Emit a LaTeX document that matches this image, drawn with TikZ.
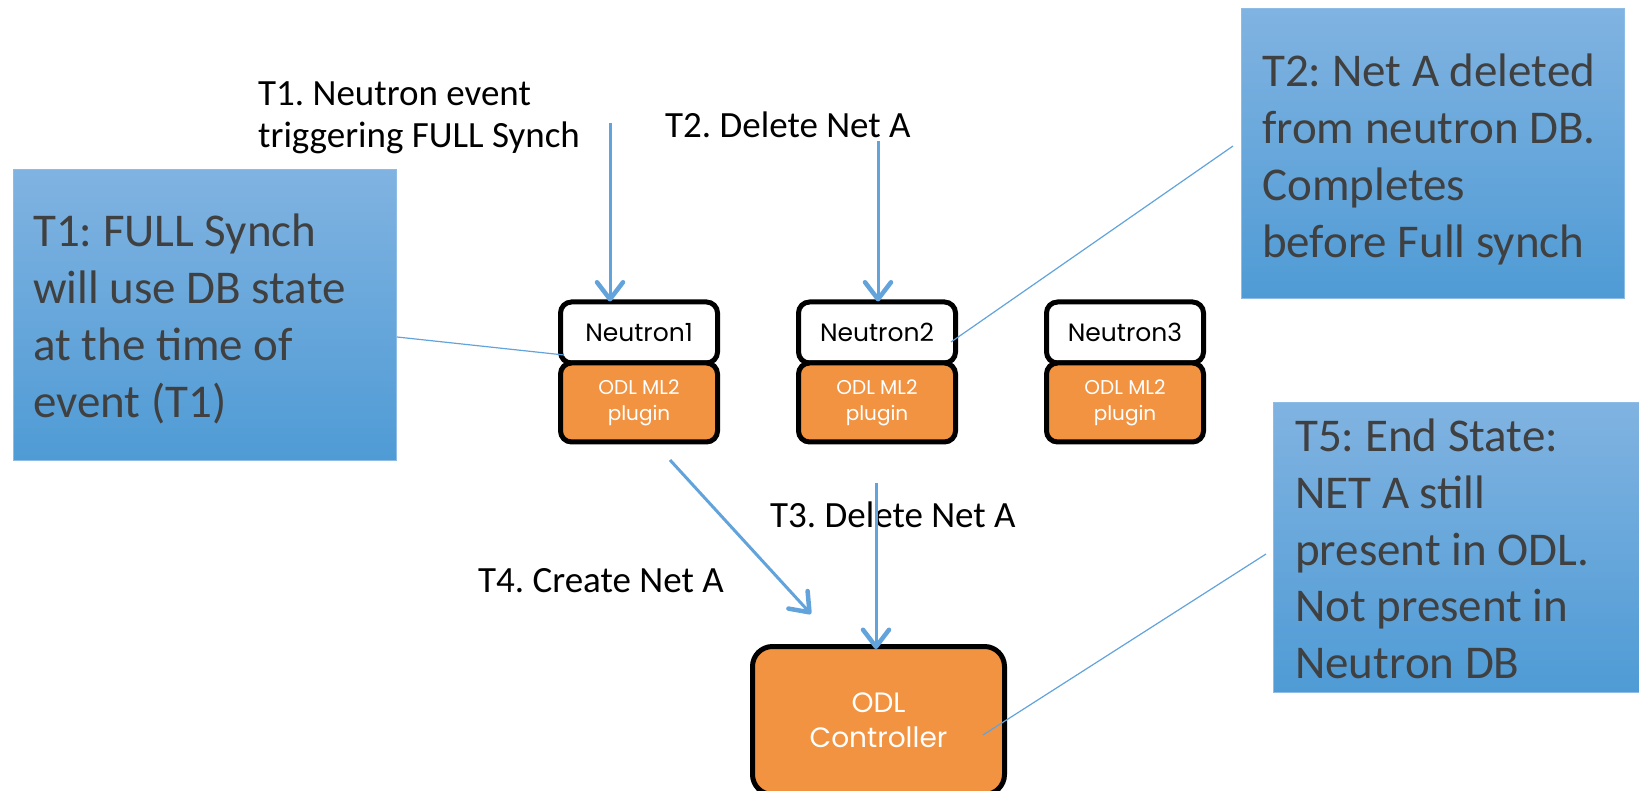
\documentclass[tikz,border=0pt]{standalone}
\usepackage{fontspec}
\setmainfont{Carlito}
\newfontfamily\gothic{Poppins}
\usetikzlibrary{arrows.meta}
\definecolor{odlorange}{HTML}{F19341}
\definecolor{arrowblue}{HTML}{62A3DC}
\definecolor{ctop}{HTML}{80B3E1}
\definecolor{cbot}{HTML}{4F9BD5}
\definecolor{cedge}{HTML}{8DBDE6}
\definecolor{ctext}{HTML}{404040}
\frenchspacing
\begin{document}
\begin{tikzpicture}[x=1pt,y=-1pt,
  callout/.style={draw=cedge, line width=1pt, top color=ctop, bottom color=cbot, anchor=north west, inner sep=0, minimum width=#1},
  cline/.style={anchor=base west, inner sep=0, text=ctext, font=\fontsize{47}{57}\selectfont},
  lbl/.style={anchor=base west, inner sep=0, text=black, font=\fontsize{37}{42}\selectfont},
  nbox/.style={draw=black, line width=5pt, rounded corners=11pt, fill=white, minimum width=157pt, minimum height=61pt, inner sep=0, anchor=north west, font=\gothic\fontsize{25}{30}\selectfont},
  pbox/.style={draw=black, line width=5pt, rounded corners=11pt, fill=odlorange, text=white, minimum width=157pt, minimum height=79pt, inner sep=0, anchor=north west, align=center, font=\gothic\fontsize{20}{26}\selectfont},
  obox/.style={draw=black, line width=5pt, rounded corners=20pt, fill=odlorange, text=white, minimum width=252pt, minimum height=148pt, inner sep=0, anchor=north west, align=center, font=\gothic\fontsize{28}{35}\selectfont},
  arr/.style={draw=arrowblue, line width=3pt, -{Straight Barb[length=17pt,width=26pt,line width=4.5pt,round]}},
  lnk/.style={draw=arrowblue, line width=1.2pt}]
\useasboundingbox (0,0) rectangle (1639,791);

% callout boxes
\node[callout=383pt, minimum height=291pt] (c1) at (13,169) {};
\node[callout=383pt, minimum height=290pt] (c2) at (1241,8) {};
\node[callout=370pt, minimum height=290pt] (c5) at (1273,402) {};

\node[cline] (c1a) at (33,247) {T1: FULL Synch};
\node[cline] (c1b) at (33,304) {will use DB state};
\node[cline] (c1c) at (33,361) {at the time of};
\node[cline] (c1d) at (33,418) {event (T1)};

\node[cline] (c2a) at (1262,87) {T2: Net A deleted};
\node[cline] (c2b) at (1262,144) {from neutron DB.};
\node[cline] (c2c) at (1262,201) {Completes};
\node[cline] (c2d) at (1262,258) {before Full synch};

\node[cline] (c5a) at (1295,452) {T5: End State:};
\node[cline] (c5b) at (1295,508) {NET A still};
\node[cline] (c5c) at (1295,565) {present in ODL.};
\node[cline] (c5d) at (1295,621) {Not present in};
\node[cline] (c5e) at (1295,678) {Neutron DB};

% neutron nodes
\node[nbox] (n1) at (558,299.5) {Neutron1};
\node[pbox] (p1) at (558,360.5) {ODL ML2\\plugin};
\node[nbox] (n2) at (796,299.5) {Neutron2};
\node[pbox] (p2) at (796,360.5) {ODL ML2\\plugin};
\node[nbox] (n3) at (1044,299.5) {Neutron3};
\node[pbox] (p3) at (1044,360.5) {ODL ML2\\plugin};

% controller
\node[obox] (odl) at (750,644) {ODL\\Controller};

% labels
\node[lbl] (l1a) at (258,106) {T1. Neutron event};
\node[lbl] (l1b) at (258,148) {triggering FULL Synch};
\node[lbl] (l2) at (665,138) {T2. Delete Net A};
\node[lbl] (l3) at (770,527) {T3. Delete Net A};
\node[lbl] (l4) at (478,592) {T4. Create Net A};

% arrows
\coordinate (a1s) at (610,123);
\draw[arr] (a1s) -- ([yshift=-2pt]a1s |- n1.north);
\coordinate (a2s) at (878,141);
\draw[arr] (a2s) -- ([yshift=-2pt]a2s |- n2.north);
\coordinate (a4s) at (670,460);
\coordinate (a4e) at (811,614);
\draw[arr] (a4s) -- (a4e);
\coordinate (a3s) at (876,483);
\draw[arr] (a3s) -- ([yshift=-5pt]a3s |- odl.north);

% callout links
\coordinate (k1) at (564,355);
\draw[lnk] (c1.east |- 0,337) -- (k1);
\coordinate (k2) at (951,342);
\draw[lnk] (1233,146) coordinate (k2s) -- (k2);
\coordinate (k5) at (983,735);
\draw[lnk] (1266,554) coordinate (k5s) -- (k5);
\end{tikzpicture}
\end{document}
